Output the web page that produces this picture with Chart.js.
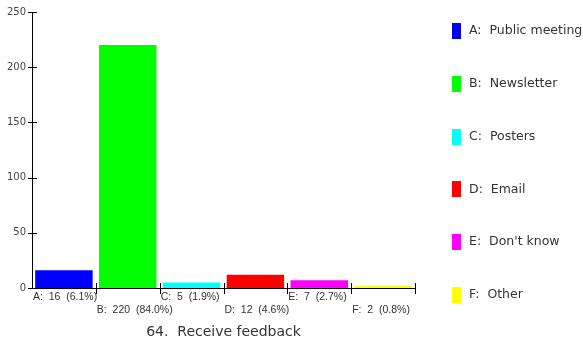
<!DOCTYPE html>
<html><head><meta charset="utf-8">
<script src="https://cdn.jsdelivr.net/npm/chart.js@4.4.1/dist/chart.umd.min.js"></script>
<style>html,body{margin:0;padding:0;background:#fff;}#wrap{width:583px;height:345px;position:relative;}</style>
</head><body><div id="wrap"><canvas id="c" width="583" height="345"></canvas></div>
<script>
const letters = ['A','B','C','D','E','F'];
const names = ['Public meeting','Newsletter','Posters','Email',"Don't know",'Other'];
const counts = [16,220,5,12,7,2];
const percents = ['6.1','84.0','1.9','4.6','2.7','0.8'];
const colors = ['#0000ff','#00ff00','#00ffff','#ff0000','#ff00ff','#ffff00'];
const yTicks = [0,50,100,150,200,250];
const titleText = '64.  Receive feedback';

const FONT = "'DejaVu Sans', sans-serif";
const FONT2 = "'Liberation Sans', Arial, sans-serif";
const TXT = '#333';

const extras = {
  id: 'extras',
  afterDraw(chart) {
    const ctx = chart.ctx, a = chart.chartArea;
    const xs = chart.scales.x, ys = chart.scales.y;
    ctx.save();
    ctx.strokeStyle = '#000'; ctx.lineWidth = 1;
    yTicks.forEach(v => {
      const y = Math.round(ys.getPixelForValue(v)) + 0.5;
      ctx.beginPath(); ctx.moveTo(a.left - 4, y); ctx.lineTo(a.left + 5, y); ctx.stroke();
    });
    const half = (xs.getPixelForValue(1) - xs.getPixelForValue(0)) / 2;
    for (let i = 1; i <= letters.length; i++) {
      const x = Math.round(xs.getPixelForValue(0) - half + i * 2 * half) + 0.5;
      ctx.beginPath(); ctx.moveTo(x, a.bottom - 5); ctx.lineTo(x, a.bottom + 6); ctx.stroke();
    }
    ctx.fillStyle = TXT; ctx.font = '10.5px ' + FONT2; ctx.textAlign = 'left'; ctx.textBaseline = 'middle';
    letters.forEach((l, i) => {
      const x = xs.getPixelForValue(i) - half + 1;
      const y = a.bottom + (i % 2 === 0 ? 9 : 22);
      ctx.fillText(l + ':  ' + counts[i] + '  (' + percents[i] + '%)', x, y);
    });
    ctx.font = '14px ' + FONT; ctx.textAlign = 'center';
    ctx.fillText(titleText, (a.left + a.right) / 2, 332);
    ctx.font = '12.5px ' + FONT; ctx.textAlign = 'left';
    letters.forEach((l, i) => {
      const cy = 31 + i * 52.8;
      ctx.fillStyle = colors[i];
      ctx.fillRect(452, Math.round(cy - 8), 9, 16);
      ctx.fillStyle = TXT;
      ctx.fillText(l + ':  ' + names[i], 469, cy);
    });
    ctx.restore();
  }
};

new Chart(document.getElementById('c'), {
  type: 'bar',
  data: {
    labels: letters,
    datasets: [{ data: counts, backgroundColor: colors, borderWidth: 0, barPercentage: 0.9, categoryPercentage: 1.0 }]
  },
  options: {
    responsive: false, animation: false, devicePixelRatio: 1,
    layout: { padding: { top: 12, right: 168, bottom: 57, left: 0 } },
    plugins: { legend: { display: false }, tooltip: { enabled: false } },
    scales: {
      x: {
        offset: true,
        grid: { display: false, drawTicks: false },
        border: { display: true, color: '#000', width: 1 },
        ticks: { display: false },
        afterFit(s) { s.height = 0; }
      },
      y: {
        min: 0, max: 250,
        afterBuildTicks(s) { s.ticks = yTicks.map(v => ({ value: v })); },
        grid: { display: false, drawTicks: false },
        border: { display: true, color: '#000', width: 1 },
        ticks: { color: '#444', font: { family: FONT, size: 10 }, padding: 6 },
        afterFit(s) { s.width = 32; }
      }
    }
  },
  plugins: [extras]
});
</script></body></html>
